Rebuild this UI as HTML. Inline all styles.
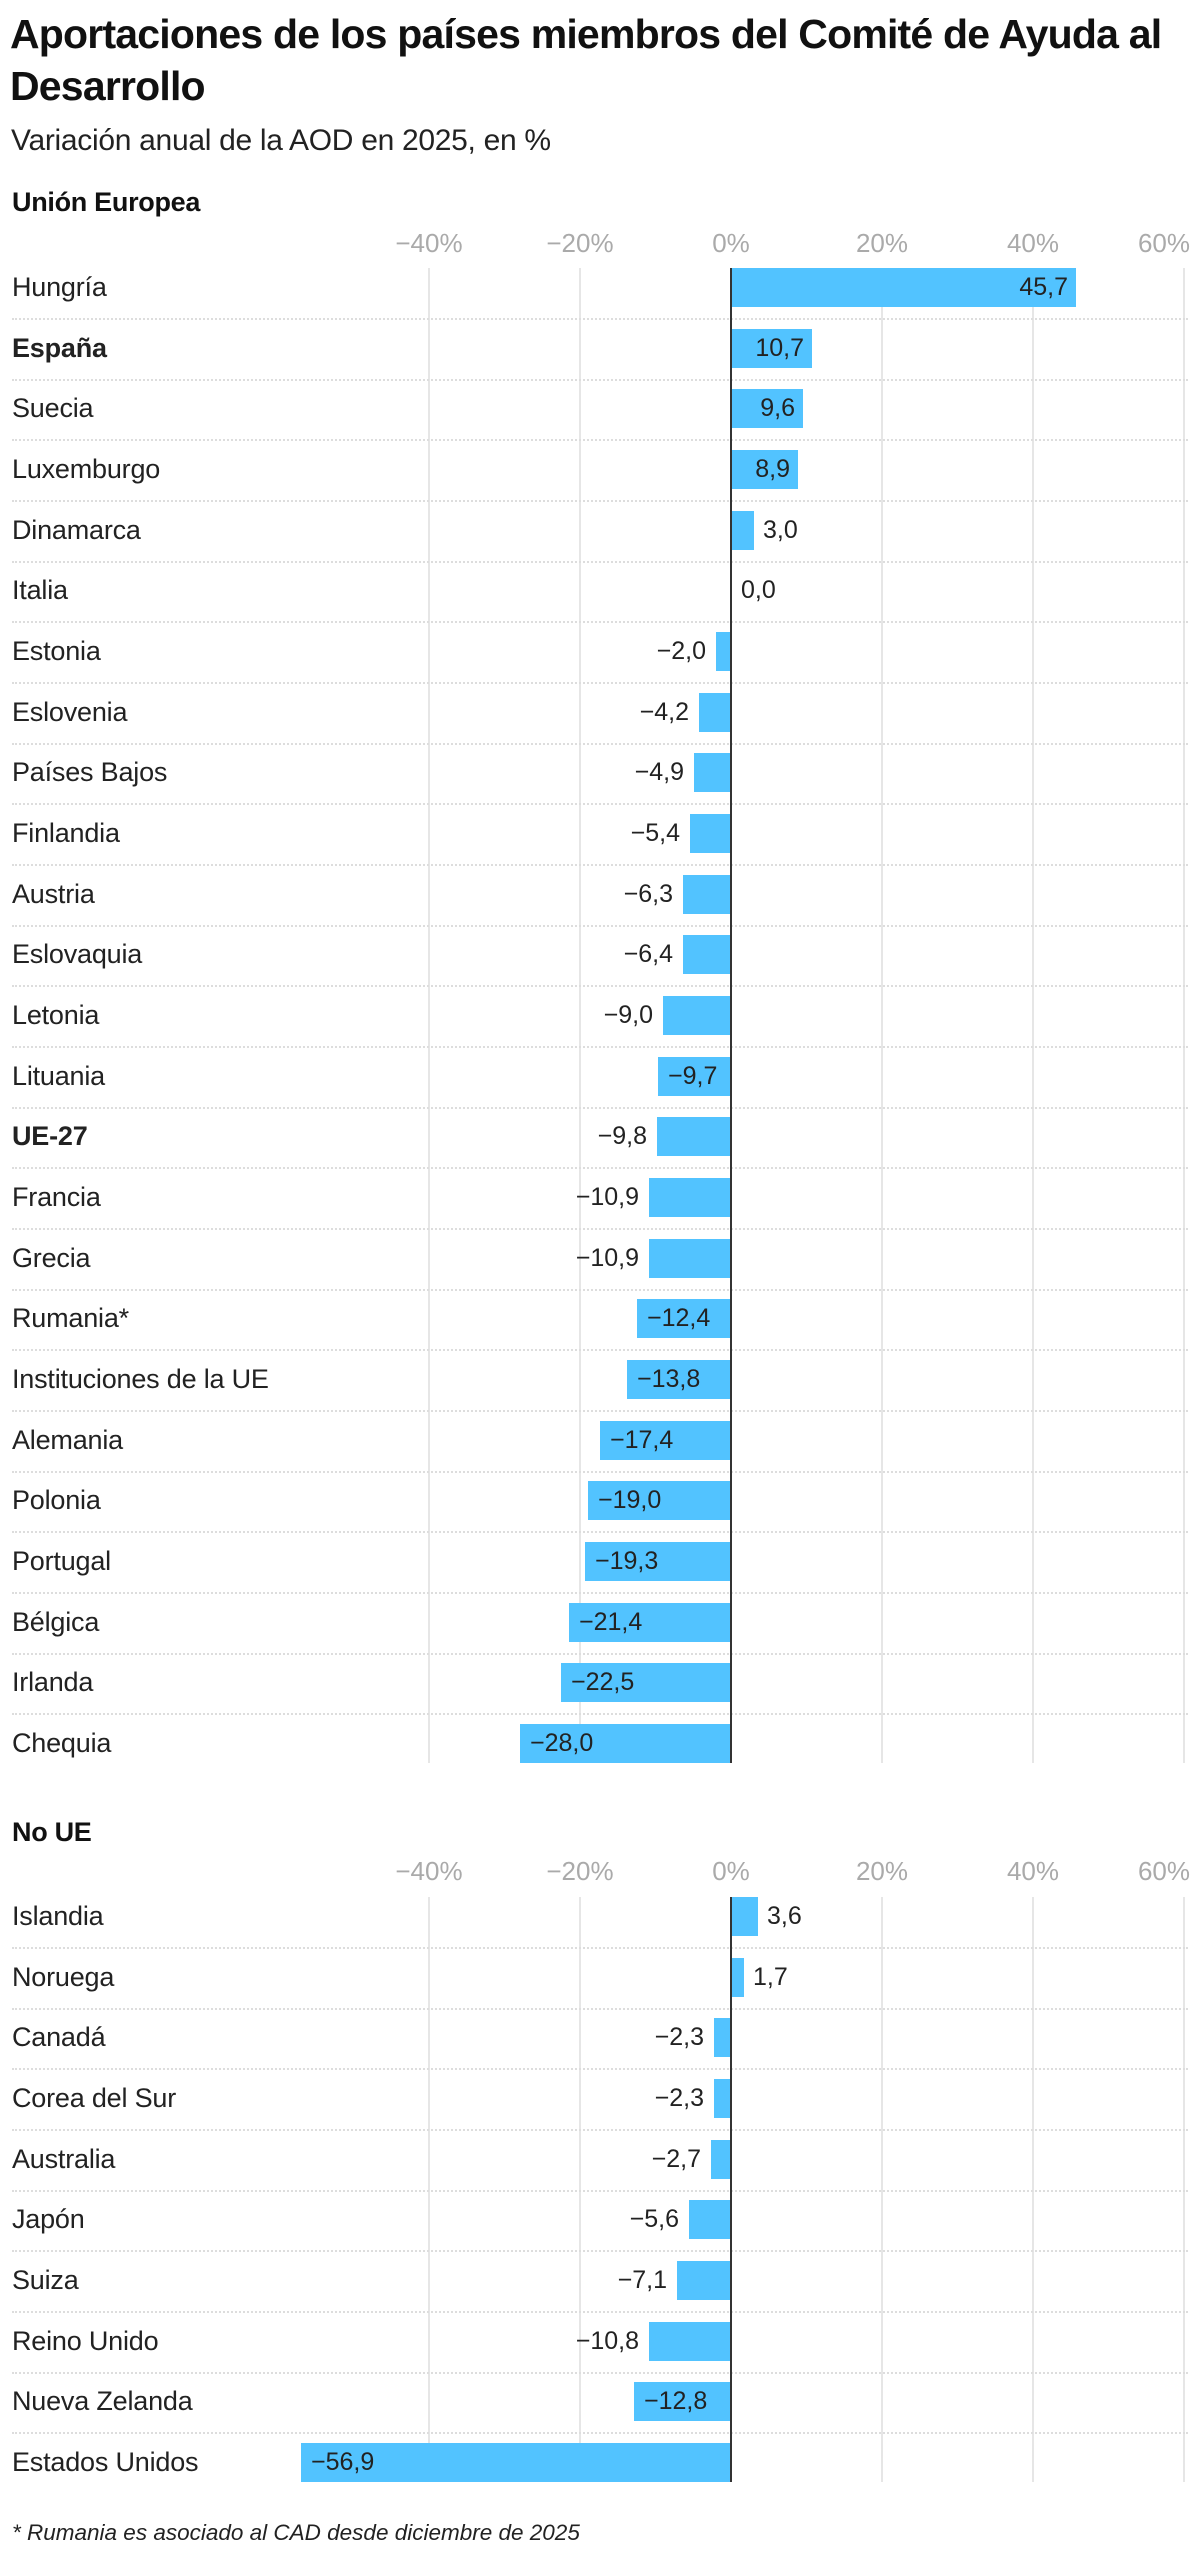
<!DOCTYPE html>
<html><head><meta charset="utf-8">
<style>
*{margin:0;padding:0;box-sizing:border-box}
body{width:1194px;height:2560px;background:#fff;position:relative;overflow:hidden;font-family:"Liberation Sans",sans-serif;color:#222}
.a{position:absolute}
h1{position:absolute;left:10px;top:8px;width:1190px;font-size:41px;line-height:52px;font-weight:bold;letter-spacing:-0.8px;color:#111;white-space:nowrap}
.sub{left:11px;top:124px;font-size:30px;color:#222;letter-spacing:-0.3px}
.sec{left:12px;font-size:27px;font-weight:bold;color:#111;letter-spacing:-0.3px}
.ax{font-size:26px;color:#aaa;line-height:28px}
.g{width:2px;background:#e6e6e6}
.z{width:2px;background:#333}
.r{position:absolute;left:0;width:1194px;height:39px}
.r .l{position:absolute;left:12px;top:0;line-height:39px;font-size:27px;white-space:nowrap;letter-spacing:-0.2px}
.r .b{position:absolute;top:0;height:39px;background:#52c3ff}
.r .v{position:absolute;top:0;line-height:39px;font-size:25px;white-space:nowrap}
.s{position:absolute;left:12px;width:1176px;height:0;border-top:2px dotted #ddd}
.fn{left:12px;top:2520px;font-size:22.5px;font-style:italic;color:#222}
</style></head><body>
<h1>Aportaciones de los países miembros del Comité de Ayuda al<br>Desarrollo</h1>
<div class="a sub">Variación anual de la AOD en 2025, en %</div>

<div class="a sec" style="top:187px">Unión Europea</div>
<div class="a ax" style="left:389px;top:229px;width:80px;text-align:center">−40%</div>
<div class="a ax" style="left:540px;top:229px;width:80px;text-align:center">−20%</div>
<div class="a ax" style="left:691px;top:229px;width:80px;text-align:center">0%</div>
<div class="a ax" style="left:842px;top:229px;width:80px;text-align:center">20%</div>
<div class="a ax" style="left:993px;top:229px;width:80px;text-align:center">40%</div>
<div class="a ax" style="left:1110px;top:229px;width:80px;text-align:right">60%</div>
<div class="a g" style="left:428px;top:268px;height:1495px"></div>
<div class="a g" style="left:579px;top:268px;height:1495px"></div>
<div class="a g" style="left:881px;top:268px;height:1495px"></div>
<div class="a g" style="left:1032px;top:268px;height:1495px"></div>
<div class="a g" style="left:1183px;top:268px;height:1495px"></div>

<div class="s" style="top:318px"></div><div class="s" style="top:379px"></div><div class="s" style="top:439px"></div><div class="s" style="top:500px"></div><div class="s" style="top:561px"></div><div class="s" style="top:621px"></div><div class="s" style="top:682px"></div><div class="s" style="top:743px"></div><div class="s" style="top:803px"></div><div class="s" style="top:864px"></div><div class="s" style="top:925px"></div><div class="s" style="top:985px"></div><div class="s" style="top:1046px"></div><div class="s" style="top:1107px"></div><div class="s" style="top:1167px"></div><div class="s" style="top:1228px"></div><div class="s" style="top:1289px"></div><div class="s" style="top:1349px"></div><div class="s" style="top:1410px"></div><div class="s" style="top:1471px"></div><div class="s" style="top:1531px"></div><div class="s" style="top:1592px"></div><div class="s" style="top:1653px"></div><div class="s" style="top:1713px"></div>

<div class="r" style="top:268px"><div class="l">Hungría</div><div class="b" style="left:731px;width:345px"></div><div class="v" style="right:126px">45,7</div></div>
<div class="r" style="top:329px"><div class="l" style="font-weight:bold">España</div><div class="b" style="left:731px;width:81px"></div><div class="v" style="right:390px">10,7</div></div>
<div class="r" style="top:389px"><div class="l">Suecia</div><div class="b" style="left:731px;width:72px"></div><div class="v" style="right:399px">9,6</div></div>
<div class="r" style="top:450px"><div class="l">Luxemburgo</div><div class="b" style="left:731px;width:67px"></div><div class="v" style="right:404px">8,9</div></div>
<div class="r" style="top:511px"><div class="l">Dinamarca</div><div class="b" style="left:731px;width:23px"></div><div class="v" style="left:763px">3,0</div></div>
<div class="r" style="top:571px"><div class="l">Italia</div><div class="b" style="left:731px;width:1px"></div><div class="v" style="left:741px">0,0</div></div>
<div class="r" style="top:632px"><div class="l">Estonia</div><div class="b" style="left:716px;width:15px"></div><div class="v" style="right:488px">−2,0</div></div>
<div class="r" style="top:693px"><div class="l">Eslovenia</div><div class="b" style="left:699px;width:32px"></div><div class="v" style="right:505px">−4,2</div></div>
<div class="r" style="top:753px"><div class="l">Países Bajos</div><div class="b" style="left:694px;width:37px"></div><div class="v" style="right:510px">−4,9</div></div>
<div class="r" style="top:814px"><div class="l">Finlandia</div><div class="b" style="left:690px;width:41px"></div><div class="v" style="right:514px">−5,4</div></div>
<div class="r" style="top:875px"><div class="l">Austria</div><div class="b" style="left:683px;width:48px"></div><div class="v" style="right:521px">−6,3</div></div>
<div class="r" style="top:935px"><div class="l">Eslovaquia</div><div class="b" style="left:683px;width:48px"></div><div class="v" style="right:521px">−6,4</div></div>
<div class="r" style="top:996px"><div class="l">Letonia</div><div class="b" style="left:663px;width:68px"></div><div class="v" style="right:541px">−9,0</div></div>
<div class="r" style="top:1057px"><div class="l">Lituania</div><div class="b" style="left:658px;width:73px"></div><div class="v" style="left:668px">−9,7</div></div>
<div class="r" style="top:1117px"><div class="l" style="font-weight:bold">UE-27</div><div class="b" style="left:657px;width:74px"></div><div class="v" style="right:547px">−9,8</div></div>
<div class="r" style="top:1178px"><div class="l">Francia</div><div class="b" style="left:649px;width:82px"></div><div class="v" style="right:555px">−10,9</div></div>
<div class="r" style="top:1239px"><div class="l">Grecia</div><div class="b" style="left:649px;width:82px"></div><div class="v" style="right:555px">−10,9</div></div>
<div class="r" style="top:1299px"><div class="l">Rumania*</div><div class="b" style="left:637px;width:94px"></div><div class="v" style="left:647px">−12,4</div></div>
<div class="r" style="top:1360px"><div class="l">Instituciones de la UE</div><div class="b" style="left:627px;width:104px"></div><div class="v" style="left:637px">−13,8</div></div>
<div class="r" style="top:1421px"><div class="l">Alemania</div><div class="b" style="left:600px;width:131px"></div><div class="v" style="left:610px">−17,4</div></div>
<div class="r" style="top:1481px"><div class="l">Polonia</div><div class="b" style="left:588px;width:143px"></div><div class="v" style="left:598px">−19,0</div></div>
<div class="r" style="top:1542px"><div class="l">Portugal</div><div class="b" style="left:585px;width:146px"></div><div class="v" style="left:595px">−19,3</div></div>
<div class="r" style="top:1603px"><div class="l">Bélgica</div><div class="b" style="left:569px;width:162px"></div><div class="v" style="left:579px">−21,4</div></div>
<div class="r" style="top:1663px"><div class="l">Irlanda</div><div class="b" style="left:561px;width:170px"></div><div class="v" style="left:571px">−22,5</div></div>
<div class="r" style="top:1724px"><div class="l">Chequia</div><div class="b" style="left:520px;width:211px"></div><div class="v" style="left:530px">−28,0</div></div>
<div class="a z" style="left:730px;top:268px;height:1495px"></div>

<div class="a sec" style="top:1817px">No UE</div>
<div class="a ax" style="left:389px;top:1857px;width:80px;text-align:center">−40%</div>
<div class="a ax" style="left:540px;top:1857px;width:80px;text-align:center">−20%</div>
<div class="a ax" style="left:691px;top:1857px;width:80px;text-align:center">0%</div>
<div class="a ax" style="left:842px;top:1857px;width:80px;text-align:center">20%</div>
<div class="a ax" style="left:993px;top:1857px;width:80px;text-align:center">40%</div>
<div class="a ax" style="left:1110px;top:1857px;width:80px;text-align:right">60%</div>
<div class="a g" style="left:428px;top:1897px;height:585px"></div>
<div class="a g" style="left:579px;top:1897px;height:585px"></div>
<div class="a g" style="left:881px;top:1897px;height:585px"></div>
<div class="a g" style="left:1032px;top:1897px;height:585px"></div>
<div class="a g" style="left:1183px;top:1897px;height:585px"></div>

<div class="s" style="top:1947px"></div><div class="s" style="top:2008px"></div><div class="s" style="top:2068px"></div><div class="s" style="top:2129px"></div><div class="s" style="top:2190px"></div><div class="s" style="top:2250px"></div><div class="s" style="top:2311px"></div><div class="s" style="top:2372px"></div><div class="s" style="top:2432px"></div>

<div class="r" style="top:1897px"><div class="l">Islandia</div><div class="b" style="left:731px;width:27px"></div><div class="v" style="left:767px">3,6</div></div>
<div class="r" style="top:1958px"><div class="l">Noruega</div><div class="b" style="left:731px;width:13px"></div><div class="v" style="left:753px">1,7</div></div>
<div class="r" style="top:2018px"><div class="l">Canadá</div><div class="b" style="left:714px;width:17px"></div><div class="v" style="right:490px">−2,3</div></div>
<div class="r" style="top:2079px"><div class="l">Corea del Sur</div><div class="b" style="left:714px;width:17px"></div><div class="v" style="right:490px">−2,3</div></div>
<div class="r" style="top:2140px"><div class="l">Australia</div><div class="b" style="left:711px;width:20px"></div><div class="v" style="right:493px">−2,7</div></div>
<div class="r" style="top:2200px"><div class="l">Japón</div><div class="b" style="left:689px;width:42px"></div><div class="v" style="right:515px">−5,6</div></div>
<div class="r" style="top:2261px"><div class="l">Suiza</div><div class="b" style="left:677px;width:54px"></div><div class="v" style="right:527px">−7,1</div></div>
<div class="r" style="top:2322px"><div class="l">Reino Unido</div><div class="b" style="left:649px;width:82px"></div><div class="v" style="right:555px">−10,8</div></div>
<div class="r" style="top:2382px"><div class="l">Nueva Zelanda</div><div class="b" style="left:634px;width:97px"></div><div class="v" style="left:644px">−12,8</div></div>
<div class="r" style="top:2443px"><div class="l">Estados Unidos</div><div class="b" style="left:301px;width:430px"></div><div class="v" style="left:311px">−56,9</div></div>
<div class="a z" style="left:730px;top:1897px;height:585px"></div>

<div class="a fn">* Rumania es asociado al CAD desde diciembre de 2025</div>
</body></html>
